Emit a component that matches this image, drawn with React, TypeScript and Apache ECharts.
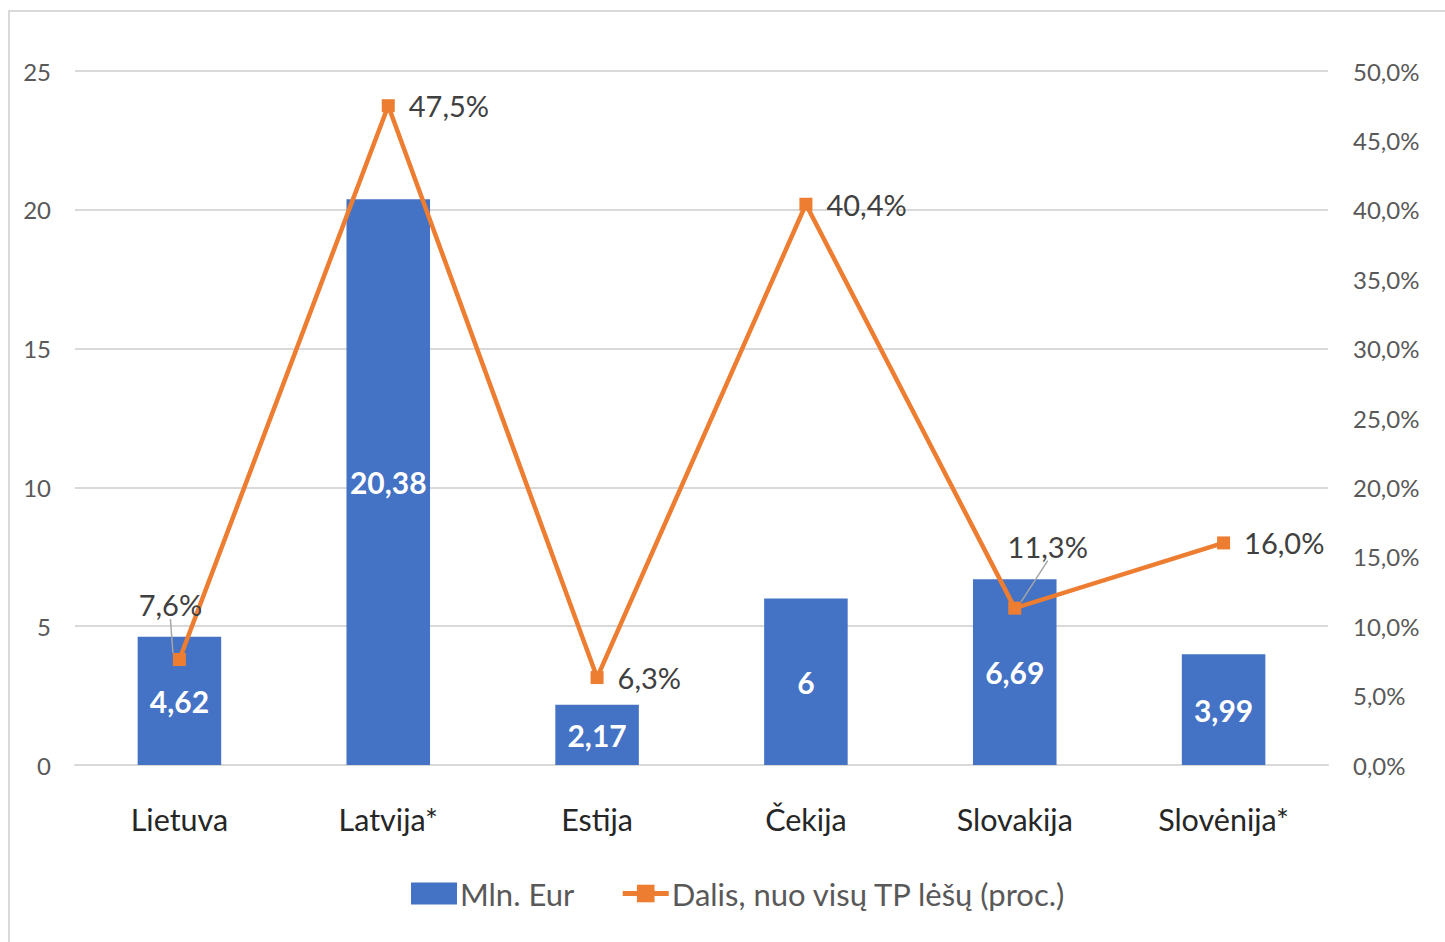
import React, { useEffect, useRef } from "react";
import * as echarts from "echarts";

const categories = ["Lietuva", "Latvija*", "Estija", "Čekija", "Slovakija", "Slovėnija*"];
const mlnEur = [4.62, 20.38, 2.17, 6, 6.69, 3.99];
const sharePct = [7.6, 47.5, 6.3, 40.4, 11.3, 16.0];
const seriesNames = ["Mln. Eur", "Dalis, nuo visų TP lėšų (proc.)"];
const labelPositions = ["top", "right", "right", "right", "top", "right"];
const labelShifts = [[-9, -20], [0, 0], [0, 0], [0, 0], [33, -27], [0, 0]];

const FONT = "Lato, 'Noto Sans', sans-serif";

export default function App() {
  const ref = useRef<HTMLDivElement>(null);
  useEffect(() => {
    document.body.style.margin = "0";
    document.body.style.overflow = "hidden";
    if (!ref.current) return;
    const chart = echarts.init(ref.current, undefined, { renderer: "svg" });
    const comma = (v: number) => String(v).replace(".", ",");
    chart.setOption({
      animation: false,
      textStyle: { fontFamily: FONT },
      graphic: [
        {
          type: "rect",
          shape: { x: 9, y: 11, width: 1600, height: 1200 },
          style: { fill: "none", stroke: "#d9d9d9", lineWidth: 2 },
          silent: true,
        },
      ],
      grid: { left: 75, right: 117, top: 71, bottom: 177, containLabel: false },
      legend: {
        left: 406,
        top: 873,
        itemWidth: 46,
        itemHeight: 22,
        itemGap: 46,
        textStyle: { fontFamily: FONT, fontSize: 31, color: "#595959", padding: [0, 0, 0, -2] },
        data: [
          { name: seriesNames[0], icon: "rect" },
          { name: seriesNames[1], lineStyle: { width: 5 } },
        ],
      },
      xAxis: {
        type: "category",
        data: categories,
        axisLine: { lineStyle: { color: "#d9d9d9", width: 2 } },
        axisTick: { show: false },
        axisLabel: { fontFamily: FONT, fontSize: 30.5, color: "#262626", margin: 38 },
      },
      yAxis: [
        {
          type: "value",
          min: 0,
          max: 25,
          interval: 5,
          axisLine: { show: false },
          axisTick: { show: false },
          splitLine: { lineStyle: { color: "#d9d9d9", width: 2 } },
          axisLabel: { fontFamily: FONT, fontSize: 24, color: "#595959", margin: 24 },
        },
        {
          type: "value",
          min: 0,
          max: 50,
          interval: 5,
          position: "right",
          axisLine: { show: false },
          axisTick: { show: false },
          splitLine: { show: false },
          axisLabel: {
            fontFamily: FONT,
            fontSize: 24,
            color: "#595959",
            margin: 25,
            formatter: (v: number) => v.toFixed(1).replace(".", ",") + "%",
          },
        },
      ],
      series: [
        {
          name: seriesNames[0],
          type: "bar",
          data: mlnEur,
          barWidth: "40%",
          itemStyle: { color: "#4472C4" },
          label: {
            show: true,
            position: "inside",
            color: "#ffffff",
            fontFamily: FONT,
            fontWeight: "bold",
            fontSize: 30,
            formatter: (p: any) => comma(p.value),
          },
        },
        {
          name: seriesNames[1],
          type: "line",
          yAxisIndex: 1,
          data: sharePct.map((v, i) => ({
            value: v,
            label: { position: labelPositions[i] },
            labelLine: { show: labelPositions[i] === "top" },
          })),
          symbol: "rect",
          symbolSize: 13,
          lineStyle: { color: "#ED7D31", width: 4.5 },
          itemStyle: { color: "#ED7D31" },
          label: {
            show: true,
            fontFamily: FONT,
            fontSize: 29,
            color: "#404040",
            distance: 14,
            formatter: (p: any) => p.value.toFixed(1).replace(".", ",") + "%",
          },
          labelLine: { show: false, lineStyle: { color: "#a6a6a6", width: 1.5 } },
          labelLayout: (p: any) => ({ dx: labelShifts[p.dataIndex][0], dy: labelShifts[p.dataIndex][1] }),
        },
      ],
    });
    return () => chart.dispose();
  }, []);
  return <div ref={ref} style={{ width: 1445, height: 942 }} />;
}
